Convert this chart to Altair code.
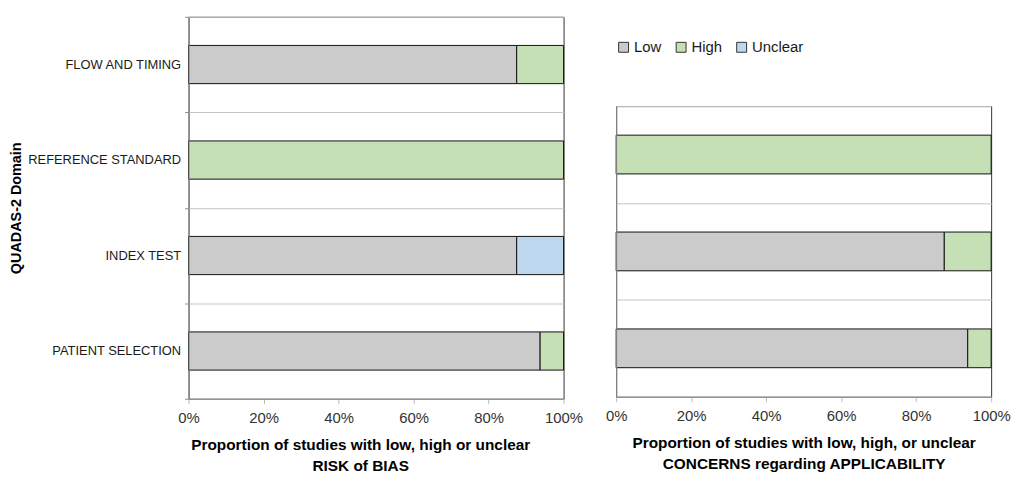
import altair as alt
import pandas as pd

categories = ["Low", "High", "Unclear"]
colors = ["#cbcbcb", "#c5e0b4", "#bdd7ee"]

rob_domains = ["FLOW AND TIMING", "REFERENCE STANDARD", "INDEX TEST", "PATIENT SELECTION"]
rob_low = [87.5, 0.0, 87.5, 93.75]
rob_high = [12.5, 100.0, 0.0, 6.25]
rob_unclear = [0.0, 0.0, 12.5, 0.0]

app_domains = ["REFERENCE STANDARD", "INDEX TEST", "PATIENT SELECTION"]
app_low = [0.0, 87.5, 93.75]
app_high = [100.0, 12.5, 6.25]
app_unclear = [0.0, 0.0, 0.0]

x_ticks = [0, 20, 40, 60, 80, 100]

rob_title = ["Proportion of studies with low, high or unclear", "RISK of BIAS"]
app_title = ["Proportion of studies with low, high, or unclear", "CONCERNS regarding APPLICABILITY"]

FONT = "Liberation Sans"


def to_long(domains, low, high, unclear):
    rows = []
    for i, d in enumerate(domains):
        for k, (cat, vals) in enumerate(zip(categories, [low, high, unclear])):
            if vals[i] > 0:
                rows.append({"domain": d, "level": cat, "value": vals[i], "order": k})
    return pd.DataFrame(rows)


def panel(df, domains, height, xtitle, left, title_x=None):
    y_axis = alt.Axis(
        title="QUADAS-2 Domain" if left else None,
        labels=left,
        ticks=left,
        tickBand="extent",
        grid=True,
        gridColor="#c4c4c4",
        domainColor="#8a8a8a",
        tickColor="#8a8a8a",
        tickSize=4,
        labelPadding=4,
        labelFont=FONT,
        labelFontSize=13,
        labelColor="#1a1a1a",
        titleFont=FONT,
        titleFontSize=14.5,
        titleFontWeight="bold",
        titleColor="#000000",
        titlePadding=4,
        zindex=1,
    )
    xa = dict(
        values=x_ticks,
        labelExpr="datum.value + '%'",
        labelFlush=False,
        grid=False,
        tickSize=5,
        tickColor="#bdbdbd",
        domainColor="#8a8a8a",
        labelFont=FONT,
        labelFontSize=15,
        labelColor="#333333",
        labelPadding=7,
        title=xtitle,
        titleFont=FONT,
        titleFontSize=15.5,
        titleFontWeight="bold",
        titleLineHeight=21,
        titlePadding=12,
        titleColor="#000000",
        zindex=1,
    )
    if title_x is not None:
        xa["titleX"] = title_x
    legend = None
    if not left:
        legend = alt.Legend(
            orient="top",
            title=None,
            direction="horizontal",
            symbolType="square",
            symbolSize=100,
            symbolStrokeColor="#333333",
            symbolStrokeWidth=1,
            labelFont=FONT,
            labelFontSize=15,
            labelColor="#1a1a1a",
            labelOffset=3,
            columnPadding=12,
            offset=51,
        )
    ch = alt.Chart(df).mark_bar(height={"band": 0.4}, stroke="#111111", strokeWidth=1).encode(
        x=alt.X("value:Q", stack="zero", scale=alt.Scale(domain=[0, 100], nice=False), axis=alt.Axis(**xa)),
        y=alt.Y("domain:N", sort=domains, scale=alt.Scale(domain=domains, paddingInner=0, paddingOuter=0), axis=y_axis),
        color=alt.Color("level:N", scale=alt.Scale(domain=categories, range=colors), legend=legend),
        order=alt.Order("order:Q"),
    )
    return ch.properties(width=378, height=height)


left_chart = panel(to_long(rob_domains, rob_low, rob_high, rob_unclear), rob_domains, 385, rob_title, True, title_x=173)
right_chart = panel(to_long(app_domains, app_low, app_high, app_unclear), app_domains, 293, app_title, False)

spacer_df = pd.DataFrame({"v": [0]})
spacer = (
    alt.Chart(spacer_df)
    .mark_point(opacity=0, size=1)
    .encode(x=alt.value(0), y=alt.value(0))
    .properties(width=378, height=1, view=alt.ViewBackground(stroke="transparent"))
)

right_col = alt.vconcat(spacer, right_chart, spacing=20).resolve_legend(color="independent")

chart = (
    alt.hconcat(left_chart, right_col, spacing=21)
    .resolve_scale(color="shared")
    .resolve_legend(color="independent")
    .properties(padding={"left": 0, "top": 0, "right": 0, "bottom": 0})
    .configure_view(stroke="#333333", strokeWidth=1)
)

chart.save("out.html", embed_options={"renderer": "svg", "actions": False})
